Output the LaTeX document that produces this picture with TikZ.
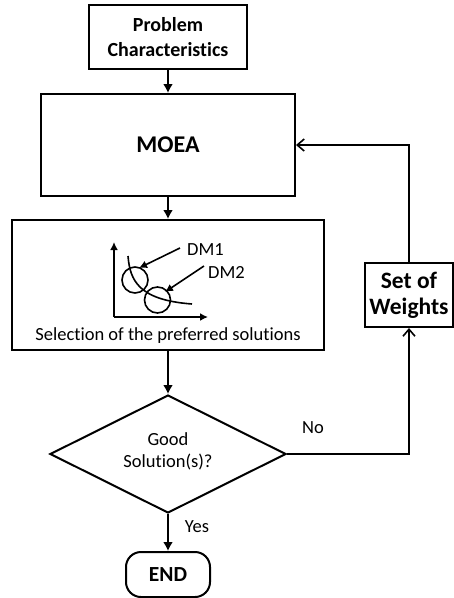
\documentclass[tikz,border=0pt]{standalone}
\usepackage{fontspec}
\setmainfont{Carlito}[Ligatures=NoCommon]
\usetikzlibrary{shapes.geometric,arrows.meta}
\begin{document}
\begin{tikzpicture}[x=1pt,y=-1pt,
  box/.style={draw,line width=2pt,rectangle,align=center,inner sep=0pt},
  bfont/.style={font=\fontsize{21.5}{25}\selectfont\bfseries},
  rfont/.style={font=\fontsize{18.5}{22}\selectfont},
  flow/.style={line width=2pt,-{Latex[length=9pt,width=10pt]}},
  back/.style={line width=2pt,-{Straight Barb[length=7pt,width=12pt,line width=1.6pt]}},
  fine/.style={line width=1.6pt},
  finearrow/.style={line width=1.6pt,-{Latex[length=8pt,width=8pt]}}]
\useasboundingbox (0,0) rectangle (454,598);
\node[box,minimum width=158pt,minimum height=64pt,font=\fontsize{20}{25}\selectfont\bfseries] (pc) at (168,37) {Problem\\Characteristics};
\node[box,minimum width=254pt,minimum height=102pt,font=\fontsize{24}{28}\selectfont\bfseries] (moea) at (168,145) {MOEA};
\node[box,minimum width=312pt,minimum height=130pt] (sel) at (168,285) {};
\node[draw,line width=2pt,diamond,aspect=2,inner sep=0pt,minimum width=236pt,minimum height=118pt] (dec) at (168,454) {};
\node[rfont,align=center] (dectext) at (168,451) {Good\\Solution(s)?};
\node[box,bfont,rounded corners=15pt,minimum width=84pt,minimum height=45pt] (end) at (168,574.5) {END};
\node[box,minimum width=88pt,minimum height=64pt,font=\fontsize{23.5}{26}\selectfont\bfseries] (sow) at (409,295) {Set of\\Weights};
% inner graphic
\coordinate (ax0) at (114,317);
\coordinate (axy) at (114,242);
\coordinate (axx) at (208,317);
\draw[finearrow] (ax0) -- (axy);
\draw[finearrow] (ax0) -- (axx);
\draw[fine] (128,256) .. controls (130,280) and (138,300) .. (192,304);
\node[draw,fine,circle,minimum size=26pt,inner sep=0pt] (c1) at (135,280) {};
\node[draw,fine,circle,minimum size=26pt,inner sep=0pt] (c2) at (157.5,300) {};
\node[rfont,anchor=west,inner sep=0pt] (dm1) at (187,250) {DM1};
\node[rfont,anchor=west,inner sep=0pt] (dm2) at (208,272) {DM2};
\coordinate (dm1s) at (180,248);
\coordinate (dm1e) at (139,268);
\coordinate (dm2s) at (204,266);
\coordinate (dm2e) at (165,292);
\draw[finearrow] (dm1s) -- (dm1e);
\draw[finearrow] (dm2s) -- (dm2e);
\node[rfont] (seltext) at (168,336) {Selection of the preferred solutions};
% connectors
\draw[flow] (pc) -- (moea);
\draw[flow] (moea) -- (sel);
\draw[flow] (sel.south) -- (dec.north);
\draw[flow] (dec.south) -- (end.north);
\draw[back] (dec.east) -| (sow.south);
\draw[back] (sow.north) |- (moea.east);
\node[rfont] (no) at (313,428) {No};
\node[rfont] (yes) at (197,527) {Yes};
\end{tikzpicture}
\end{document}
